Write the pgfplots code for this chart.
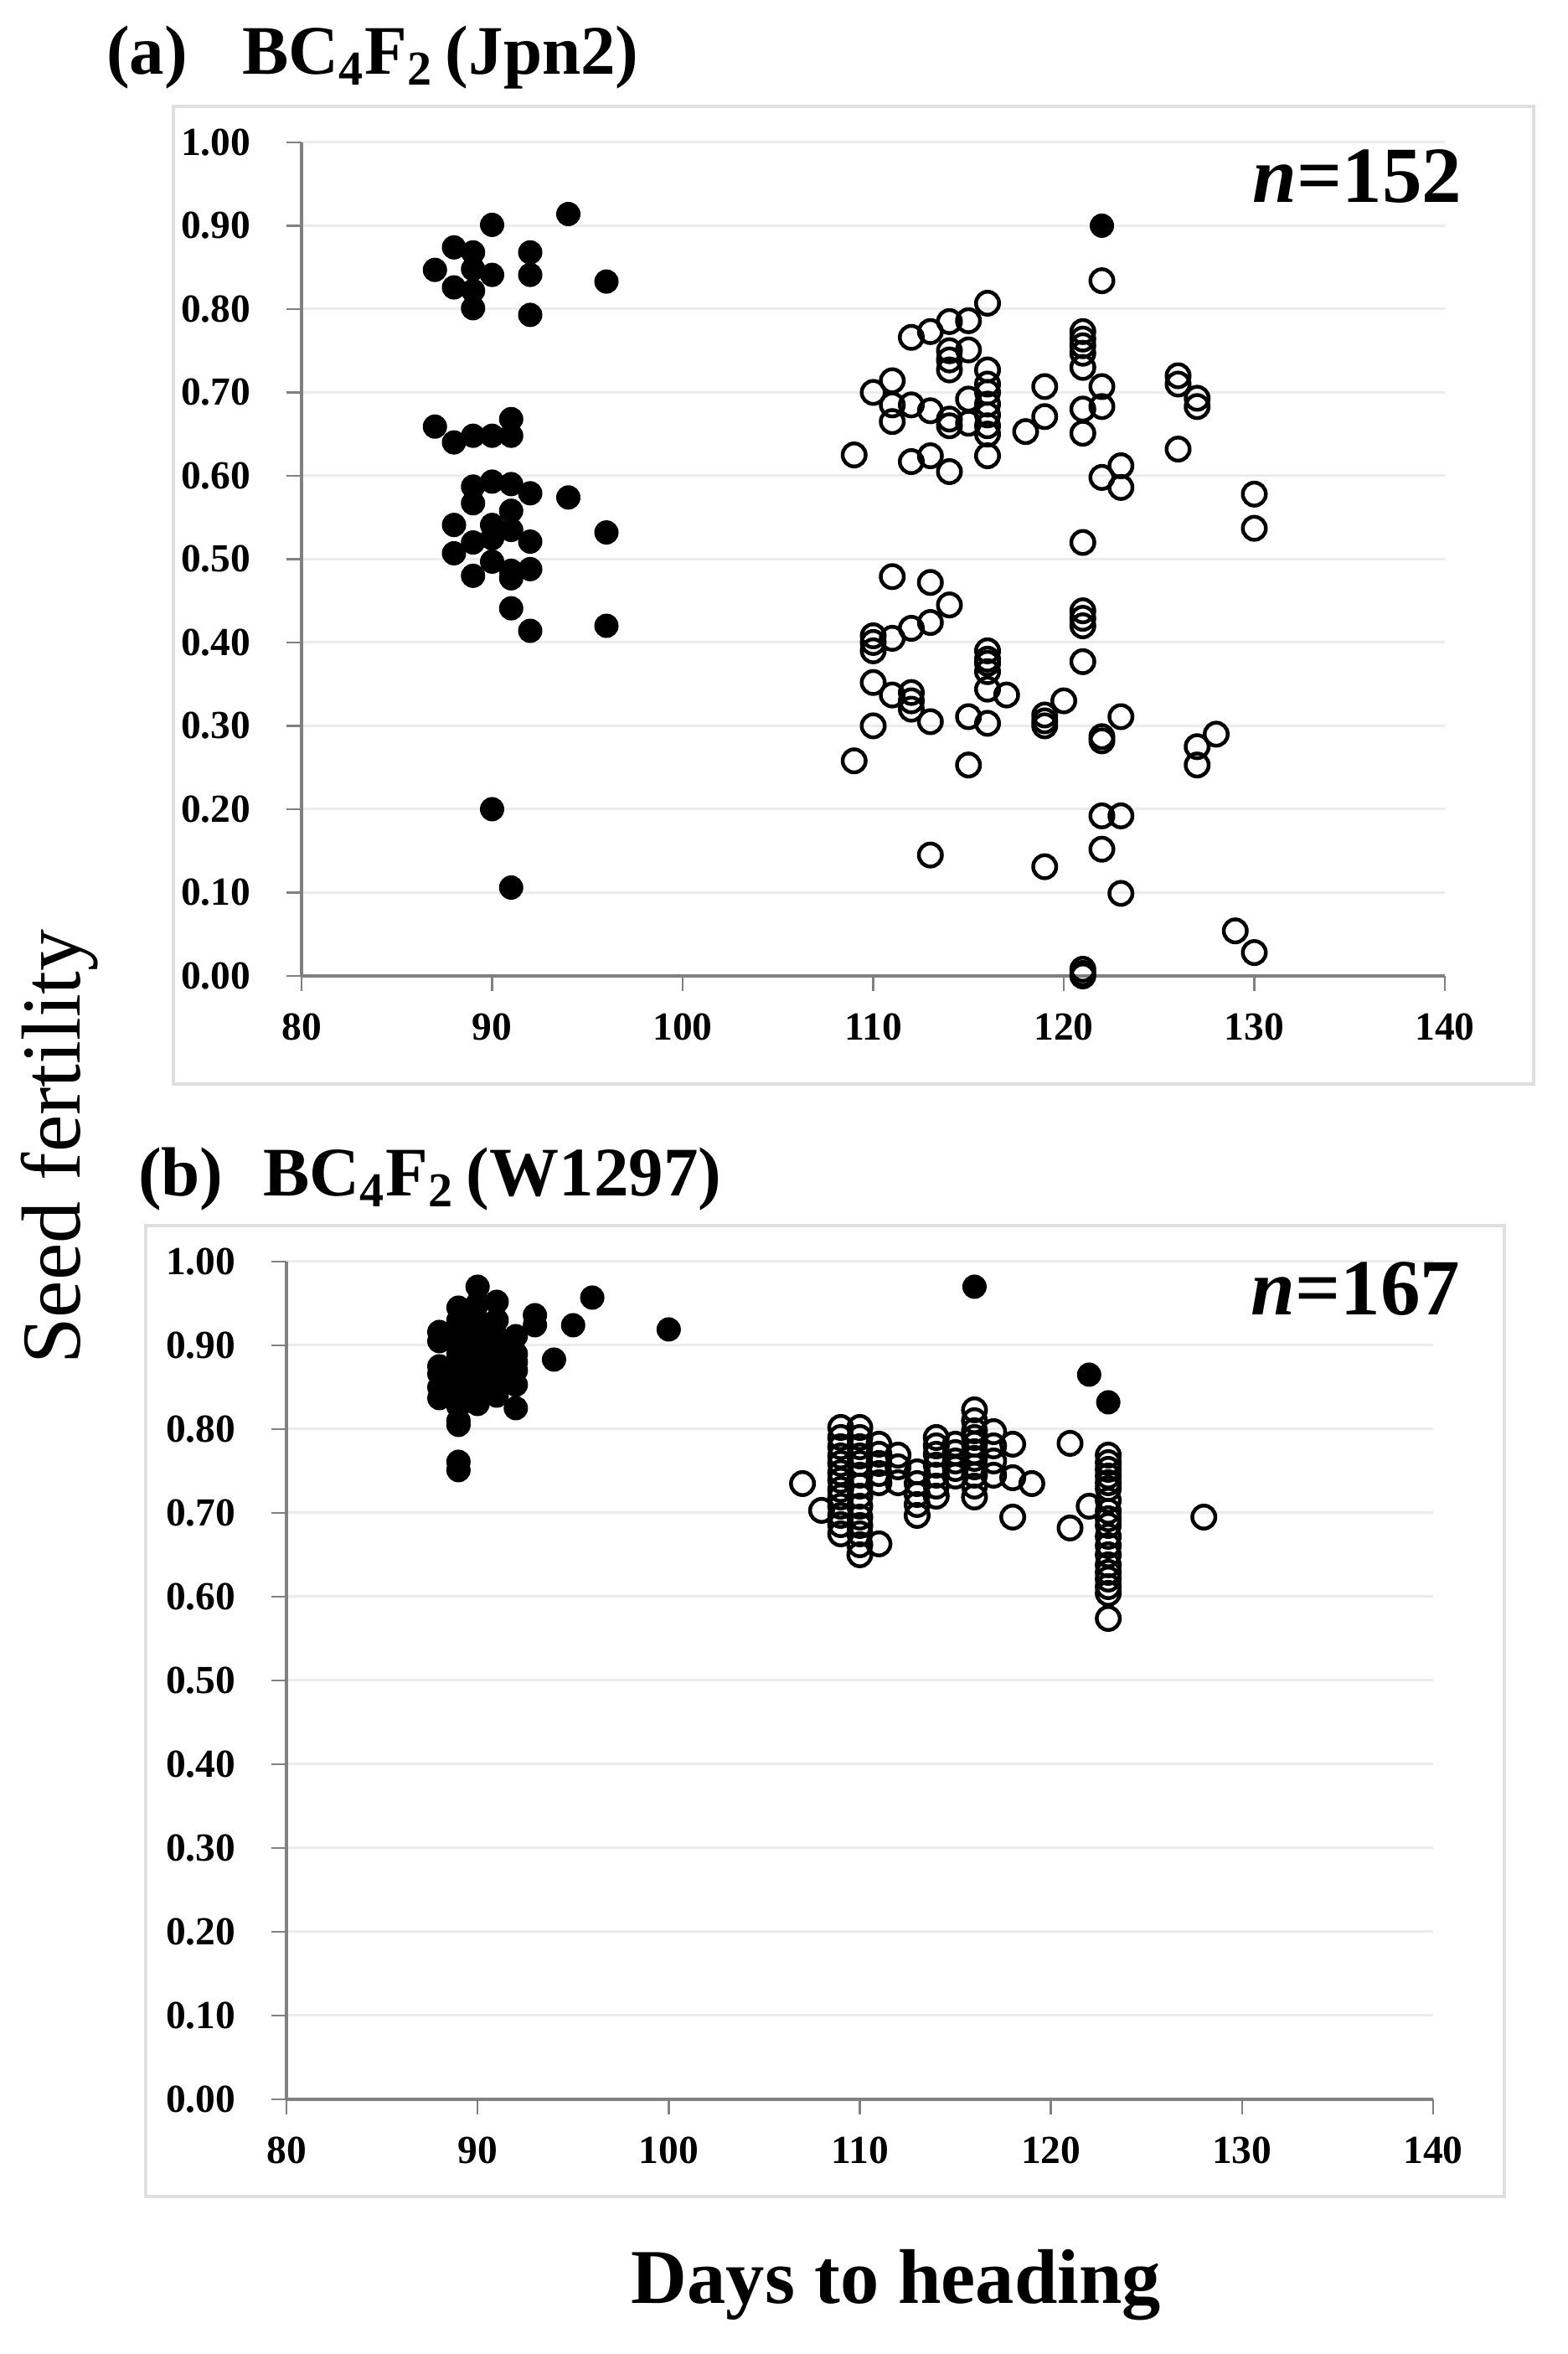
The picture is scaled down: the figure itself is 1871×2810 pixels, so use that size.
\documentclass[border=0pt]{standalone}
\usepackage{pgfplots}
\pgfplotsset{compat=1.18}
\usepackage{pgfplotstable}
\usepackage{fontspec}
\setmainfont{Liberation Serif}

% ---------- Panel (a): BC4F2 (Jpn2) ----------
\pgfplotstableread{
x y
94 0.914
90 0.901
88 0.874
89 0.868
92 0.868
87 0.847
89 0.848
90 0.841
92 0.841
88 0.826
89 0.822
96 0.833
89 0.801
92 0.793
122 0.900
87 0.659
88 0.640
89 0.648
90 0.648
91 0.668
91 0.648
89 0.587
89 0.567
90 0.593
91 0.590
92 0.579
91 0.558
88 0.541
90 0.541
90 0.525
91 0.535
92 0.521
89 0.520
88 0.507
90 0.497
89 0.480
91 0.486
92 0.488
91 0.477
91 0.441
92 0.414
94 0.574
96 0.532
96 0.420
90 0.200
91 0.106
}\solidA

\pgfplotstableread{
x y
109 0.625
110 0.700
111 0.714
111 0.685
111 0.665
112 0.766
112 0.685
112 0.617
113 0.773
113 0.678
113 0.624
114 0.785
114 0.750
114 0.739
114 0.727
114 0.668
114 0.660
114 0.605
115 0.786
115 0.751
115 0.692
115 0.663
116 0.807
116 0.727
116 0.710
116 0.700
116 0.686
116 0.673
116 0.660
116 0.650
116 0.624
118 0.653
119 0.707
119 0.671
121 0.773
121 0.764
121 0.756
121 0.747
121 0.730
121 0.680
121 0.651
121 0.520
122 0.834
122 0.707
122 0.683
122 0.598
123 0.612
123 0.586
126 0.720
126 0.710
126 0.632
127 0.693
127 0.683
130 0.578
130 0.537
111 0.479
113 0.472
114 0.445
113 0.424
112 0.417
111 0.405
110 0.408
110 0.400
110 0.390
110 0.352
111 0.337
112 0.340
112 0.330
112 0.320
113 0.305
110 0.300
109 0.258
116 0.390
116 0.380
116 0.375
116 0.365
116 0.344
117 0.337
115 0.311
116 0.303
115 0.253
119 0.313
119 0.306
119 0.300
120 0.330
121 0.438
121 0.429
121 0.420
121 0.377
122 0.287
122 0.282
123 0.311
127 0.275
127 0.253
128 0.290
122 0.192
123 0.192
122 0.152
113 0.145
119 0.131
123 0.099
129 0.054
130 0.028
121 0.008
121 0.003
121 0.000
}\openA

% ---------- Panel (b): BC4F2 (W1297) ----------
\pgfplotstableread{
x y
90 0.970
89 0.945
91 0.952
88 0.916
88 0.905
93 0.936
93 0.924
92 0.911
95 0.924
96 0.957
100 0.919
94 0.883
88 0.866
88 0.850
88 0.837
88 0.875
89 0.930
89 0.910
89 0.890
89 0.870
89 0.850
89 0.838
89 0.827
89 0.810
89 0.805
89 0.761
89 0.751
90 0.950
90 0.930
90 0.920
90 0.910
90 0.900
90 0.890
90 0.880
90 0.870
90 0.860
90 0.850
90 0.840
90 0.830
91 0.930
91 0.910
91 0.900
91 0.890
91 0.880
91 0.870
91 0.860
91 0.850
91 0.840
92 0.890
92 0.880
92 0.870
92 0.853
92 0.825
116 0.970
122 0.865
123 0.832
}\solidB

\pgfplotstableread{
x y
107 0.735
108 0.703
109 0.802
109 0.790
109 0.779
109 0.768
109 0.759
109 0.748
109 0.739
109 0.728
109 0.719
109 0.708
109 0.697
109 0.686
109 0.675
110 0.802
110 0.790
110 0.779
110 0.768
110 0.759
110 0.745
110 0.732
110 0.720
110 0.708
110 0.695
110 0.685
110 0.675
110 0.662
110 0.650
111 0.782
111 0.770
111 0.759
111 0.747
111 0.736
111 0.663
112 0.769
112 0.755
112 0.736
113 0.749
113 0.735
113 0.722
113 0.710
113 0.697
114 0.790
114 0.780
114 0.770
114 0.757
114 0.745
114 0.732
114 0.720
115 0.782
115 0.772
115 0.762
115 0.753
115 0.744
116 0.823
116 0.810
116 0.798
116 0.790
116 0.782
116 0.773
116 0.765
116 0.755
116 0.745
116 0.732
116 0.719
117 0.797
117 0.780
117 0.762
117 0.745
118 0.782
118 0.742
118 0.695
119 0.735
121 0.783
121 0.682
122 0.708
123 0.769
123 0.760
123 0.752
123 0.744
123 0.736
123 0.729
123 0.715
123 0.702
123 0.693
123 0.685
123 0.672
123 0.661
123 0.650
123 0.638
123 0.629
123 0.621
123 0.612
123 0.604
123 0.574
128 0.695
}\openB

\pgfplotsset{
  panel/.style={
    scale only axis,
    clip=false,
    xmin=80, xmax=140, ymin=0, ymax=1,
    xtick={80,90,100,110,120,130,140},
    ytick={0,0.1,0.2,0.3,0.4,0.5,0.6,0.7,0.8,0.9,1},
    axis x line*=bottom,
    axis y line*=left,
    axis line style={draw=gray, line width=0.7pt},
    tick align=outside,
    major tick length=3.6pt,
    tick style={draw=gray, line width=0.5pt},
    ymajorgrids,
    grid style={draw=gray!15, line width=0.6pt},
    /pgf/number format/assume math mode=true,
    ticklabel style={font=\fontsize{9.5}{10}\selectfont\bfseries},
    yticklabel style={xshift=-5pt, /pgf/number format/fixed, /pgf/number format/fixed zerofill, /pgf/number format/precision=2},
    xticklabel style={yshift=-1.8pt},
  },
  solidmk/.style={only marks, mark=*, mark size=2.75pt, mark options={fill=black, draw=black, line width=0.3pt}},
  openmk/.style={only marks, mark=o, mark size=2.75pt, mark options={draw=black, line width=0.9pt}},
}

\begin{document}
\begin{tikzpicture}[x=0.2pt,y=0.2pt]
\path[use as bounding box] (0,0) rectangle (1871,2810);
% chart-area frames
\draw[gray!25, line width=0.7pt] (207,1516) rectangle (1831,2683);
\draw[gray!25, line width=0.7pt] (174,188) rectangle (1796,1347);

\begin{axis}[panel, at={(72pt,329pt)}, anchor=south west, width=273pt, height=199pt]
\addplot[solidmk] table {\solidA};
\addplot[openmk] table {\openA};
\end{axis}

\begin{axis}[panel, at={(68.4pt,60.8pt)}, anchor=south west, width=273.8pt, height=200pt]
\addplot[solidmk] table {\solidB};
\addplot[openmk] table {\openB};
\end{axis}

% titles
\node[anchor=base west, inner sep=0pt, font=\fontsize{16.6}{20}\selectfont\bfseries] at (126,2721) {(a)};
\node[anchor=base west, inner sep=0pt, font=\fontsize{16.6}{20}\selectfont\bfseries] at (288,2721) {BC\textsubscript{4}F\textsubscript{2}\,(Jpn2)};
\node[anchor=base west, inner sep=0pt, font=\fontsize{16.6}{20}\selectfont\bfseries] at (164,1382) {(b)};
\node[anchor=base west, inner sep=0pt, font=\fontsize{16.6}{20}\selectfont\bfseries] at (313,1382) {BC\textsubscript{4}F\textsubscript{2}\,(W1297)};
% n labels
\node[anchor=base east, inner sep=0pt, font=\fontsize{19}{22}\selectfont\bfseries] at (1746,2568) {\textit{n}=152};
\node[anchor=base east, inner sep=0pt, font=\fontsize{19}{22}\selectfont\bfseries] at (1744,1240) {\textit{n}=167};
% axis titles
\node[anchor=base, rotate=90, inner sep=0pt, font=\fontsize{20}{24}\selectfont] at (95,1441) {Seed fertility};
\node[anchor=base, inner sep=0pt, font=\fontsize{18.5}{22}\selectfont\bfseries] at (1070,60) {Days to heading};
\end{tikzpicture}
\end{document}
